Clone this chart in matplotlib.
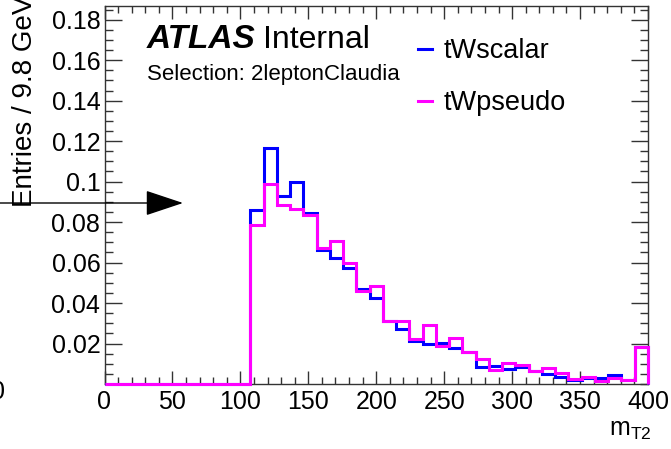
import numpy as np
import matplotlib as mpl
mpl.use('Agg')
import matplotlib.pyplot as plt
from matplotlib.ticker import FixedLocator, MultipleLocator, FormatStrFormatter

# m_T2 histogram, 41 bins from 0 to 400 GeV (normalised)
bin_edges = np.linspace(0, 400, 42)
tw_scalar = [0.0] * 11 + [
    0.0859, 0.1167, 0.0930, 0.0996, 0.0847, 0.0664, 0.0623, 0.0574, 0.0467, 0.0423,
    0.0311, 0.0272, 0.0210, 0.0199, 0.0201, 0.0176, 0.0158, 0.0083, 0.0087, 0.0075,
    0.0086, 0.0064, 0.0050, 0.0033, 0.0022, 0.0028, 0.0030, 0.0045, 0.0022, 0.0183]
tw_pseudo = [0.0] * 11 + [
    0.0788, 0.0989, 0.0884, 0.0867, 0.0837, 0.0671, 0.0706, 0.0599, 0.0461, 0.0485,
    0.0312, 0.0313, 0.0224, 0.0293, 0.0188, 0.0226, 0.0159, 0.0125, 0.0067, 0.0104,
    0.0096, 0.0066, 0.0078, 0.0053, 0.0025, 0.0035, 0.0015, 0.0029, 0.0021, 0.0182]
series_labels = ['tWscalar', 'tWpseudo']
x_ticks = [0, 50, 100, 150, 200, 250, 300, 350, 400]
y_ticks = [0.02, 0.04, 0.06, 0.08, 0.1, 0.12, 0.14, 0.16, 0.18]

W, H = 671, 449


def px(x, y):
    # figure pixels measured from the top-left corner
    return x / W, 1 - y / H


def main():
    plt.rcParams['font.family'] = ['Liberation Sans', 'DejaVu Sans']
    plt.rcParams['mathtext.fontset'] = 'custom'
    plt.rcParams['mathtext.rm'] = 'Liberation Sans'
    plt.rcParams['mathtext.it'] = 'Liberation Sans:italic'

    fig = plt.figure(figsize=(W / 100, H / 100), dpi=100)
    x0, y1 = px(104.5, 5.5)
    x1, y0 = px(648, 384)
    ax = fig.add_axes([x0, y0, x1 - x0, y1 - y0])

    ax.stairs(tw_scalar, bin_edges, color='#0000ff', lw=2.2, label=series_labels[0],
              clip_on=False, zorder=3)
    ax.stairs(tw_pseudo, bin_edges, color='#ff00ff', lw=2.2, label=series_labels[1],
              clip_on=False, zorder=3)

    ax.set_xlim(0, 400)
    ax.set_ylim(0, 0.187)
    ax.xaxis.set_major_locator(FixedLocator(x_ticks))
    ax.xaxis.set_minor_locator(MultipleLocator(10))
    ax.yaxis.set_major_locator(FixedLocator(y_ticks))
    ax.yaxis.set_minor_locator(MultipleLocator(0.005))
    ax.yaxis.set_major_formatter(FormatStrFormatter('%g'))

    for s in ax.spines.values():
        s.set_color('#333333')
        s.set_linewidth(1.0)
    ax.tick_params(which='both', direction='in', top=True, right=True, color='#333333')
    ax.tick_params(axis='x', which='major', length=9.5, width=1, pad=4, labelsize=18)
    ax.tick_params(axis='x', which='minor', length=4.7, width=1)
    ax.tick_params(axis='y', which='major', length=12, width=1, pad=3, labelsize=18)
    ax.tick_params(axis='y', which='minor', length=6, width=1)

    # axis titles (cut off at the edges, as in the original canvas)
    fig.text(*px(25, 207), 'Entries / 9.8 GeV', rotation=90, ha='center', va='bottom', fontsize=20)
    fig.text(*px(652, 436), r'$\mathrm{m_{T2}}$', ha='right', va='baseline', fontsize=18)
    fig.text(*px(5, 392), '0', ha='right', va='center', fontsize=18)

    # stray arrow
    ax.annotate('', xy=(183, H - 203), xytext=(0, H - 203),
                xycoords='figure pixels', textcoords='figure pixels',
                arrowprops=dict(arrowstyle='-|>,head_length=2.4,head_width=0.8',
                                color='black', lw=1, shrinkA=0, shrinkB=0),
                annotation_clip=False)

    fig.text(*px(147, 48), 'ATLAS', fontsize=24, fontweight='bold', fontstyle='italic', va='baseline')
    fig.text(*px(263, 48), 'Internal', fontsize=23, va='baseline')
    fig.text(*px(147, 80), 'Selection: 2leptonClaudia', fontsize=16, va='baseline')

    ax.legend(loc='upper left', bbox_to_anchor=px(418, 38), bbox_transform=fig.transFigure,
              frameon=False, fontsize=19.5, handlelength=0.5, handletextpad=0.45,
              labelspacing=0.97, borderpad=0, borderaxespad=0)

    fig.savefig('out.png', dpi=100)


if __name__ == "__main__":
    main()
